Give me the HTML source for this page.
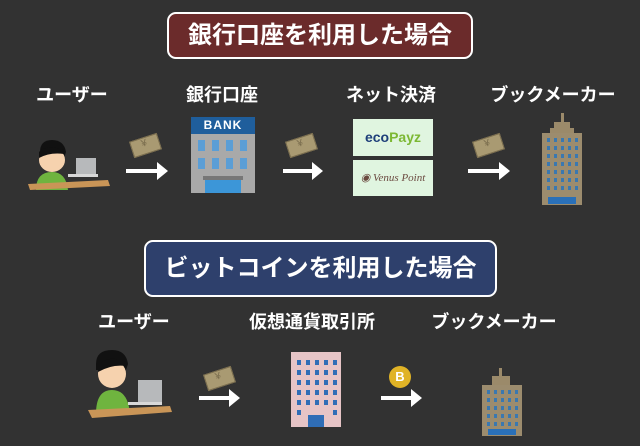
<!DOCTYPE html>
<html><head><meta charset="utf-8"><style>
body{margin:0;width:640px;height:446px;background:#323232;position:relative;overflow:hidden;font-family:"Liberation Sans","Noto Sans CJK JP",sans-serif;}
.a{position:absolute}
.ban{position:absolute;border:2px solid #fff;border-radius:9px;color:#fff;font-weight:bold;font-size:24px;text-align:center;box-sizing:border-box}
.lbl{position:absolute;color:#fff;font-weight:bold;font-size:18px;text-align:center;width:170px;transform:translateX(-50%)}
.arrow{position:absolute;height:4px;background:#fff}
.arrow:after{content:"";position:absolute;right:-10px;top:-7px;border-left:11px solid #fff;border-top:9px solid transparent;border-bottom:9px solid transparent}
.money{position:absolute;width:27px;height:15px;background:#a99a72;border:1px solid #7a6d4e;transform:rotate(-18deg)}
.money:after{content:"¥";position:absolute;left:10px;top:0;font-size:10px;color:#7a6d4e}
</style></head><body>

<div class="ban" style="left:167px;top:12px;width:306px;height:47px;line-height:43px;background:#6b2b2b">銀行口座を利用した場合</div>
<div class="lbl" style="left:72px;top:81px">ユーザー</div>
<div class="lbl" style="left:222px;top:81px">銀行口座</div>
<div class="lbl" style="left:391px;top:81px">ネット決済</div>
<div class="lbl" style="left:553px;top:81px">ブックメーカー</div>

<!-- person 1 -->
<svg class="a" style="left:26px;top:140px" width="88" height="52" viewBox="0 0 88 52">
<path d="M14 12 Q14 0 26 0 Q38 0 40 12 L38 18 L14 18Z" fill="#111"/>
<ellipse cx="26" cy="20" rx="13" ry="12" fill="#f6d2ae"/>
<path d="M13 12 Q20 4 38 10 L38 14 Q24 12 13 18Z" fill="#111"/>
<path d="M10 50 Q10 32 26 32 Q40 32 42 50Z" fill="#6fb43f"/>
<rect x="50" y="18" width="20" height="17" fill="#b7b9bb"/>
<rect x="42" y="34" width="30" height="3" fill="#d8d8d8"/>
<path d="M2 44 L82 40 L84 46 L4 50Z" fill="#c99557"/>
</svg>
<div class="money" style="left:131px;top:137px"></div>
<div class="arrow" style="left:126px;top:169px;width:32px"></div>

<!-- bank -->
<div class="a" style="left:191px;top:117px;width:64px;height:76px;background:#a9a9a9"></div>
<div class="a" style="left:191px;top:117px;width:64px;height:17px;background:#1f5e9c;color:#fff;font-weight:bold;font-size:12px;text-align:center;line-height:17px;letter-spacing:1px">BANK</div>
<svg class="a" style="left:191px;top:134px" width="64" height="59">
<g fill="#5b9ed6"><rect x="7" y="6" width="7" height="11"/><rect x="21" y="6" width="7" height="11"/><rect x="35" y="6" width="7" height="11"/><rect x="49" y="6" width="7" height="11"/>
<rect x="7" y="24" width="7" height="11"/><rect x="21" y="24" width="7" height="11"/><rect x="35" y="24" width="7" height="11"/><rect x="49" y="24" width="7" height="11"/></g>
<rect x="12" y="42" width="40" height="4" fill="#777"/>
<rect x="14" y="46" width="36" height="13" fill="#3c96d8"/></svg>
<div class="money" style="left:287px;top:137px"></div>
<div class="arrow" style="left:283px;top:169px;width:30px"></div>

<div class="a" style="left:353px;top:119px;width:80px;height:37px;background:#e0f5e0;font-weight:bold;font-size:14px;line-height:37px;text-align:center;color:#1e3f7a">eco<span style="color:#7cb833">Payz</span></div>
<div class="a" style="left:353px;top:160px;width:80px;height:36px;background:#e0f5e0;font-style:italic;font-family:'Liberation Serif',serif;font-size:11px;line-height:36px;text-align:center;color:#6b4a40">◉ Venus Point</div>
<div class="money" style="left:474px;top:137px"></div>
<div class="arrow" style="left:468px;top:169px;width:32px"></div>

<!-- tower -->
<svg class="a" style="left:540px;top:113px" width="44" height="94">
<rect x="21" y="0" width="3" height="10" fill="#9b8a6a"/>
<rect x="14" y="9" width="16" height="7" fill="#9b8a6a"/>
<rect x="10" y="15" width="24" height="5" fill="#9b8a6a"/>
<rect x="2" y="20" width="40" height="72" fill="#9c8c6e"/>
<rect x="8" y="84" width="28" height="7" fill="#2a70b8"/>
<g fill="#3a78b0">
<rect x="7" y="25" width="3" height="4"/><rect x="14" y="25" width="3" height="4"/><rect x="21" y="25" width="3" height="4"/><rect x="28" y="25" width="3" height="4"/><rect x="35" y="25" width="3" height="4"/>
<rect x="7" y="33" width="3" height="4"/><rect x="14" y="33" width="3" height="4"/><rect x="21" y="33" width="3" height="4"/><rect x="28" y="33" width="3" height="4"/><rect x="35" y="33" width="3" height="4"/>
<rect x="7" y="41" width="3" height="4"/><rect x="14" y="41" width="3" height="4"/><rect x="21" y="41" width="3" height="4"/><rect x="28" y="41" width="3" height="4"/><rect x="35" y="41" width="3" height="4"/>
<rect x="7" y="49" width="3" height="4"/><rect x="14" y="49" width="3" height="4"/><rect x="21" y="49" width="3" height="4"/><rect x="28" y="49" width="3" height="4"/><rect x="35" y="49" width="3" height="4"/>
<rect x="7" y="57" width="3" height="4"/><rect x="14" y="57" width="3" height="4"/><rect x="21" y="57" width="3" height="4"/><rect x="28" y="57" width="3" height="4"/><rect x="35" y="57" width="3" height="4"/>
<rect x="7" y="65" width="3" height="4"/><rect x="14" y="65" width="3" height="4"/><rect x="21" y="65" width="3" height="4"/><rect x="28" y="65" width="3" height="4"/><rect x="35" y="65" width="3" height="4"/>
<rect x="7" y="73" width="3" height="4"/><rect x="14" y="73" width="3" height="4"/><rect x="21" y="73" width="3" height="4"/><rect x="28" y="73" width="3" height="4"/><rect x="35" y="73" width="3" height="4"/>
</g></svg>

<div class="ban" style="left:144px;top:240px;width:353px;height:57px;line-height:53px;background:#2e406c">ビットコインを利用した場合</div>
<div class="lbl" style="left:134px;top:308px">ユーザー</div>
<div class="lbl" style="left:312px;top:308px">仮想通貨取引所</div>
<div class="lbl" style="left:494px;top:308px">ブックメーカー</div>

<svg class="a" style="left:88px;top:348px" width="88" height="70" viewBox="0 0 88 70">
<path d="M8 16 Q8 2 24 2 Q38 2 40 16 L38 22 L8 22Z" fill="#111"/>
<ellipse cx="24" cy="26" rx="14" ry="14" fill="#f6d2ae"/>
<path d="M10 18 Q20 6 38 14 L38 18 Q24 16 10 24Z" fill="#111"/>
<path d="M8 66 Q8 42 24 42 Q40 42 42 66Z" fill="#6fb43f"/>
<rect x="50" y="32" width="24" height="24" fill="#b7b9bb"/>
<rect x="40" y="54" width="34" height="3" fill="#d8d8d8"/>
<path d="M0 62 L82 58 L84 64 L4 70Z" fill="#c99557"/>
</svg>
<div class="money" style="left:205px;top:370px"></div>
<div class="arrow" style="left:199px;top:396px;width:31px"></div>

<svg class="a" style="left:291px;top:352px" width="50" height="75">
<rect x="0" y="0" width="50" height="75" fill="#e6c4c6"/>
<g fill="#2f6db6">
<rect x="6" y="8" width="4" height="5"/><rect x="15" y="8" width="4" height="5"/><rect x="24" y="8" width="4" height="5"/><rect x="33" y="8" width="4" height="5"/><rect x="42" y="8" width="4" height="5"/>
<rect x="6" y="18" width="4" height="5"/><rect x="15" y="18" width="4" height="5"/><rect x="24" y="18" width="4" height="5"/><rect x="33" y="18" width="4" height="5"/><rect x="42" y="18" width="4" height="5"/>
<rect x="6" y="28" width="4" height="5"/><rect x="15" y="28" width="4" height="5"/><rect x="24" y="28" width="4" height="5"/><rect x="33" y="28" width="4" height="5"/><rect x="42" y="28" width="4" height="5"/>
<rect x="6" y="38" width="4" height="5"/><rect x="15" y="38" width="4" height="5"/><rect x="24" y="38" width="4" height="5"/><rect x="33" y="38" width="4" height="5"/><rect x="42" y="38" width="4" height="5"/>
<rect x="6" y="48" width="4" height="5"/><rect x="15" y="48" width="4" height="5"/><rect x="24" y="48" width="4" height="5"/><rect x="33" y="48" width="4" height="5"/><rect x="42" y="48" width="4" height="5"/>
<rect x="6" y="58" width="4" height="5"/><rect x="42" y="58" width="4" height="5"/>
<rect x="17" y="63" width="16" height="12"/></g></svg>

<div class="a" style="left:389px;top:366px;width:22px;height:22px;border-radius:50%;background:#e0b326;color:#fff;font-weight:bold;font-size:13px;text-align:center;line-height:22px">B</div>
<div class="arrow" style="left:381px;top:396px;width:31px"></div>

<svg class="a" style="left:480px;top:368px" width="44" height="69">
<rect x="19" y="0" width="3" height="10" fill="#9b8a6a"/>
<rect x="12" y="8" width="18" height="9" fill="#9b8a6a"/>
<rect x="2" y="17" width="40" height="51" fill="#9c8c6e"/>
<g fill="#3a78b0">
<rect x="7" y="22" width="3" height="4"/><rect x="14" y="22" width="3" height="4"/><rect x="21" y="22" width="3" height="4"/><rect x="28" y="22" width="3" height="4"/><rect x="35" y="22" width="3" height="4"/>
<rect x="7" y="30" width="3" height="4"/><rect x="14" y="30" width="3" height="4"/><rect x="21" y="30" width="3" height="4"/><rect x="28" y="30" width="3" height="4"/><rect x="35" y="30" width="3" height="4"/>
<rect x="7" y="38" width="3" height="4"/><rect x="14" y="38" width="3" height="4"/><rect x="21" y="38" width="3" height="4"/><rect x="28" y="38" width="3" height="4"/><rect x="35" y="38" width="3" height="4"/>
<rect x="7" y="46" width="3" height="4"/><rect x="14" y="46" width="3" height="4"/><rect x="21" y="46" width="3" height="4"/><rect x="28" y="46" width="3" height="4"/><rect x="35" y="46" width="3" height="4"/>
<rect x="7" y="54" width="3" height="4"/><rect x="14" y="54" width="3" height="4"/><rect x="21" y="54" width="3" height="4"/><rect x="28" y="54" width="3" height="4"/><rect x="35" y="54" width="3" height="4"/>
</g><rect x="8" y="61" width="28" height="6" fill="#2a70b8"/></svg>
</body></html>
